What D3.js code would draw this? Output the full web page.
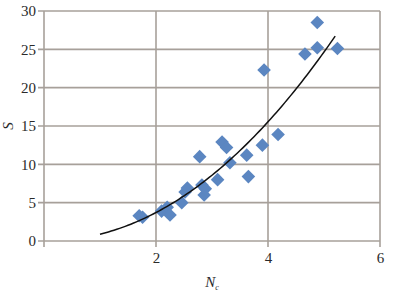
<!DOCTYPE html>
<html>
<head>
<meta charset="utf-8">
<script src="https://cdn.jsdelivr.net/npm/d3@7/dist/d3.min.js"></script>
<style>
  html, body { margin: 0; padding: 0; background: #fff; }
  svg { display: block; }
  svg text { font-family: "Liberation Serif", "DejaVu Serif", serif; fill: #2a2a2a; }
</style>
</head>
<body>
<div id="chart"></div>
<script>
// scatter points
const ncValues = [1.70, 1.76, 2.10, 2.20, 2.25, 2.46, 2.52, 2.56, 2.78, 2.82, 2.86, 2.88,
  3.10, 3.18, 3.26, 3.32, 3.62, 3.65, 3.90, 3.93, 4.18, 4.66, 4.88, 4.88, 5.24]
const sValues = [3.3, 3.1, 3.9, 4.4, 3.4, 5.0, 6.4, 6.9, 11.0, 7.3, 6.0, 6.8,
  8.0, 12.9, 12.2, 10.2, 11.2, 8.4, 12.5, 22.3, 13.9, 24.4, 28.5, 25.2, 25.1]
const xTicks = [2, 4, 6]
const yTicks = [0, 5, 10, 15, 20, 25, 30]
const trendStart = 1

const layout = { width: 411, height: 291, left: 44, right: 380, top: 11, bottom: 241 }
const gridColor = '#a7a09a'
const markColor = '#5b86c1'

const points = ncValues.map((v, i) => ({ nc: v, s: sValues[i] }))

const x = d3.scaleLinear().domain([0, 6]).range([layout.left, layout.right])
const y = d3.scaleLinear().domain([0, 30]).range([layout.bottom, layout.top])

// power trendline fitted to the points (least squares on logs)
const lx = points.map(d => Math.log(d.nc))
const ly = points.map(d => Math.log(d.s))
const mx = d3.mean(lx), my = d3.mean(ly)
const b = d3.sum(lx, (v, i) => (v - mx) * (ly[i] - my)) / d3.sum(lx, v => (v - mx) * (v - mx))
const a = Math.exp(my - b * mx)
const trendX = d3.range(trendStart, d3.max(ncValues) + 0.001, 0.05)

const svg = d3.select('#chart').append('svg')
  .attr('width', layout.width)
  .attr('height', layout.height)
  .attr('viewBox', `0 0 ${layout.width} ${layout.height}`)

// horizontal grid lines (with tick stubs on the left)
svg.append('g').selectAll('line')
  .data(yTicks)
  .enter().append('line')
  .attr('x1', layout.left - 6).attr('x2', layout.right)
  .attr('y1', d => y(d)).attr('y2', d => y(d))
  .attr('stroke', gridColor).attr('stroke-width', 1.6)

// vertical lines: axis, grid, right border (with tick stubs below)
svg.append('g').selectAll('line')
  .data([0].concat(xTicks))
  .enter().append('line')
  .attr('x1', d => x(d)).attr('x2', d => x(d))
  .attr('y1', layout.top).attr('y2', layout.bottom + 6)
  .attr('stroke', gridColor).attr('stroke-width', 1.6)

// tick labels via axes
const yAxis = svg.append('g')
  .attr('transform', `translate(${layout.left},0)`)
  .call(d3.axisLeft(y).tickValues(yTicks).tickFormat(d3.format('d')).tickSize(0).tickPadding(8))
yAxis.select('.domain').remove()
yAxis.attr('font-family', null)
yAxis.selectAll('text').attr('font-size', 15)

const xAxis = svg.append('g')
  .attr('transform', `translate(0,${layout.bottom})`)
  .call(d3.axisBottom(x).tickValues(xTicks).tickFormat(d3.format('d')).tickSize(0).tickPadding(11))
xAxis.select('.domain').remove()
xAxis.attr('font-family', null)
xAxis.selectAll('text').attr('font-size', 15)

// axis titles
svg.append('text')
  .attr('transform', `translate(13,${y(15)}) rotate(-90)`)
  .attr('text-anchor', 'middle')
  .attr('font-size', 15).attr('font-style', 'italic')
  .text('S')

const xt = svg.append('text')
  .attr('x', (layout.left + layout.right) / 2)
  .attr('y', 287)
  .attr('text-anchor', 'middle')
  .attr('font-size', 15).attr('font-style', 'italic')
xt.append('tspan').text('N')
xt.append('tspan').attr('font-size', 8).attr('dy', 3).text('c')

// points
svg.append('g').selectAll('path')
  .data(points)
  .enter().append('path')
  .attr('transform', d => `translate(${x(d.nc)},${y(d.s)})`)
  .attr('d', d3.symbol(d3.symbolDiamond2, 118))
  .attr('fill', markColor)

// trendline
svg.append('path')
  .datum(trendX)
  .attr('fill', 'none')
  .attr('stroke', '#111')
  .attr('stroke-width', 1.5)
  .attr('d', d3.line().x(d => x(d)).y(d => y(a * Math.pow(d, b))).curve(d3.curveMonotoneX))
</script>
</body>
</html>
